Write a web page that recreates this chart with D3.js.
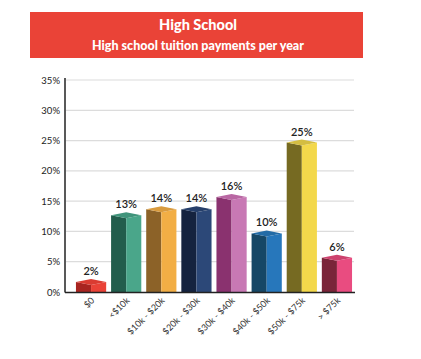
<!DOCTYPE html>
<html><head><meta charset="utf-8">
<script src="https://cdn.jsdelivr.net/npm/d3@7"></script>
<style>body{margin:0;background:#fff}svg{display:block}</style>
</head><body>
<script>
const title = "High School";
const subtitle = "High school tuition payments per year";
const categories = ["$0","<$10k","$10k - $20k","$20k - $30k","$30k - $40k","$40k - $50k","$50k - $75k","> $75k"];
const values = [2,13,14,14,16,10,25,6];
const yTicks = [0,5,10,15,20,25,30,35];
const darkColors = ["#a82420","#225d4c","#8c6228","#15233f","#8a326f","#164766","#766a22","#7a2539"];
const lightColors = ["#ea4237","#4aa68a","#f2ae45","#2c4878","#c878b4","#2777bb","#f3d84b","#e94c80"];

const W = 421, H = 359;
const svg = d3.select("body").append("svg").attr("width", W).attr("height", H);

svg.append("rect").attr("x",30).attr("y",12).attr("width",333).attr("height",46).attr("fill","#ea4337");
svg.append("text").attr("x",198).attr("y",30).attr("text-anchor","middle").attr("fill","#fff")
  .attr("font-family","Lato, sans-serif").attr("font-weight","900").attr("font-size",14.5).text(title);
svg.append("text").attr("x",198).attr("y",50).attr("text-anchor","middle").attr("fill","#fff")
  .attr("font-family","Lato, sans-serif").attr("font-weight","900").attr("font-size",12.5).text(subtitle);

const y = d3.scaleLinear().domain([0,35]).range([292,80]);
const x = d3.scaleBand().domain(categories).range([73.5,354.5]).paddingInner(0.14).paddingOuter(0.07);

// gridlines
svg.append("g").selectAll("line").data(yTicks.filter(d=>d>0)).join("line")
  .attr("x1",66).attr("x2",354).attr("y1",d=>y(d)).attr("y2",d=>y(d))
  .attr("stroke","#dcdcdc").attr("stroke-width",1.2);

const yAxis = svg.append("g").attr("transform","translate(65,0)")
  .call(d3.axisLeft(y).tickValues(yTicks).tickSize(0).tickPadding(5).tickFormat(d=>d+"%"));
yAxis.select(".domain").attr("stroke","#222").attr("stroke-width",1.5).attr("d","M0,78V292.5");
yAxis.selectAll("text").attr("font-family","Lato, sans-serif").attr("font-size",9.5).attr("fill","#222");

const bars = svg.append("g").selectAll("g").data(values).join("g");
bars.each(function(v,i){
  const g = d3.select(this);
  const x0 = x(categories[i]), x1 = x0 + x.bandwidth(), m = (x0+x1)/2;
  const yt = y(v), base = y(0);
  g.append("polygon").attr("points",[[x0,yt+2],[m,yt+5],[m,base],[x0,base]].join(" ")).attr("fill",darkColors[i]);
  g.append("polygon").attr("points",[[m,yt+5],[x1,yt+2],[x1,base],[m,base]].join(" ")).attr("fill",lightColors[i]);
  g.append("polygon").attr("points",[[x0,yt+2],[m,yt-1],[x1,yt+2],[m,yt+5]].join(" "))
    .attr("fill", d3.interpolateRgb(darkColors[i], lightColors[i])(0.75));
  g.append("text").attr("x",m).attr("y",yt-5).attr("text-anchor","middle")
    .attr("font-family","Lato, sans-serif").attr("font-size",11).attr("font-weight","600").attr("fill","#222")
    .text(v+"%");
});

// baseline
svg.append("line").attr("x1",65).attr("x2",355).attr("y1",292.5).attr("y2",292.5).attr("stroke","#222").attr("stroke-width",1.5);

const xAxis = svg.append("g").attr("transform","translate(0,293)")
  .call(d3.axisBottom(x).tickSize(0).tickPadding(0));
xAxis.select(".domain").remove();
xAxis.selectAll("text").attr("font-family","Lato, sans-serif").attr("font-size",9).attr("fill","#333")
  .attr("text-anchor","end").attr("dy",0).attr("transform","translate(4,8) rotate(-45)");
</script>
</body></html>
